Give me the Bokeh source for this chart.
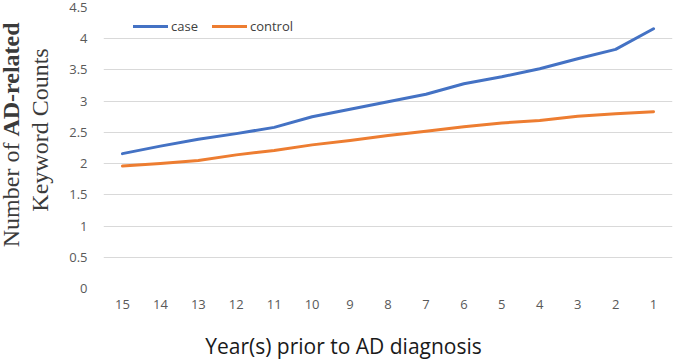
import math
from bokeh.plotting import figure
from bokeh.layouts import row, column
from bokeh.models import FactorRange, Range1d, FixedTicker, Legend, LegendItem
from bokeh.core.properties import value
from bokeh.embed import file_html
from bokeh.resources import INLINE

years = ["15", "14", "13", "12", "11", "10", "9", "8", "7", "6", "5", "4", "3", "2", "1"]
case = [2.16, 2.28, 2.39, 2.48, 2.58, 2.75, 2.87, 2.99, 3.11, 3.28, 3.39, 3.52, 3.68, 3.83, 4.16]
control = [1.96, 2.00, 2.05, 2.14, 2.21, 2.30, 2.37, 2.45, 2.52, 2.59, 2.65, 2.69, 2.76, 2.80, 2.83]
y_ticks = [0, 0.5, 1, 1.5, 2, 2.5, 3, 3.5, 4, 4.5]
y_tick_labels = ["0", "0.5", "1", "1.5", "2", "2.5", "3", "3.5", "4", "4.5"]
series_names = ["case", "control"]
x_title = "Year(s) prior to AD diagnosis"
y_title_1a = "Number of "
y_title_1b = "AD-related"
y_title_2 = "Keyword Counts"

BLUE = "#4472C4"
ORANGE = "#ED7D31"
TITLE_W = 60
TOP_H = 320
XT_H = 360 - TOP_H

# ---- narrow panel holding the rotated y-axis title (mixed weight) ----
t = figure(width=TITLE_W, height=TOP_H, output_backend="svg", toolbar_location=None,
           x_range=Range1d(0, TITLE_W), y_range=Range1d(TOP_H, 0),
           x_axis_location=None, y_axis_location=None,
           min_border_left=0, min_border_right=0, min_border_top=0, min_border_bottom=0)
t.outline_line_color = None
t.xgrid.visible = False
t.ygrid.visible = False
ang = math.pi / 2
common = dict(angle=ang, text_baseline="alphabetic", text_font=value("Liberation Serif"),
              text_font_size="24px", text_color="#3a3a3a")
t.text(x=[10], y=[147], text=[y_title_1a], text_align="right", **common)
t.text(x=[10], y=[147], text=[y_title_1b], text_align="left", text_font_style="bold", **common)
t.text(x=[39], y=[139.5], text=[y_title_2], text_align="center", **common)

# ---- main chart ----
p = figure(width=675 - TITLE_W, height=TOP_H, output_backend="svg", toolbar_location=None,
           x_range=FactorRange(factors=years, range_padding=0),
           y_range=Range1d(0, 4.5),
           min_border_left=103 - TITLE_W, min_border_right=3, min_border_top=7,
           min_border_bottom=TOP_H - 288)
p.outline_line_color = None

r1 = p.line(years, case, line_color=BLUE, line_width=3, line_join="round", line_cap="round")
r2 = p.line(years, control, line_color=ORANGE, line_width=3, line_join="round", line_cap="round")

p.xgrid.grid_line_color = None
p.ygrid.grid_line_color = "#d9d9d9"
p.ygrid.grid_line_width = 1
p.yaxis.ticker = FixedTicker(ticks=y_ticks)
p.yaxis.major_label_overrides = {tk: lb for tk, lb in zip(y_ticks, y_tick_labels)}

for ax in (p.xaxis[0], p.yaxis[0]):
    ax.axis_line_color = None
    ax.major_tick_line_color = None
    ax.minor_tick_line_color = None
    ax.major_tick_out = 0
    ax.major_tick_in = 0
    ax.major_label_text_font = "Open Sans"
    ax.major_label_text_font_size = "13px"
    ax.major_label_text_color = "#595959"
p.yaxis.major_label_standoff = 16
p.xaxis.major_label_standoff = 11

legend = Legend(items=[LegendItem(label=series_names[0], renderers=[r1]),
                       LegendItem(label=series_names[1], renderers=[r2])],
                orientation="horizontal", location=(30, 252),
                padding=0, margin=0, spacing=14, glyph_width=35, label_standoff=3,
                border_line_color=None, background_fill_alpha=0,
                label_text_font="Open Sans", label_text_font_size="13px",
                label_text_color="#404040")
p.add_layout(legend)

# ---- strip holding the x-axis title ----
xt = figure(width=675, height=XT_H, output_backend="svg", toolbar_location=None,
            x_range=Range1d(0, 675), y_range=Range1d(0, XT_H),
            x_axis_location=None, y_axis_location=None,
            min_border_left=0, min_border_right=0, min_border_top=0, min_border_bottom=0)
xt.outline_line_color = None
xt.xgrid.visible = False
xt.ygrid.visible = False
xt.text(x=[343], y=[15], text=[x_title], text_align="center", text_baseline="alphabetic",
        text_font=value("Open Sans"), text_font_size="21px", text_color="#1a1a1a")

layout = column(row(t, p, spacing=0), xt, spacing=0)
open("out.html", "w").write(file_html(layout, INLINE))
